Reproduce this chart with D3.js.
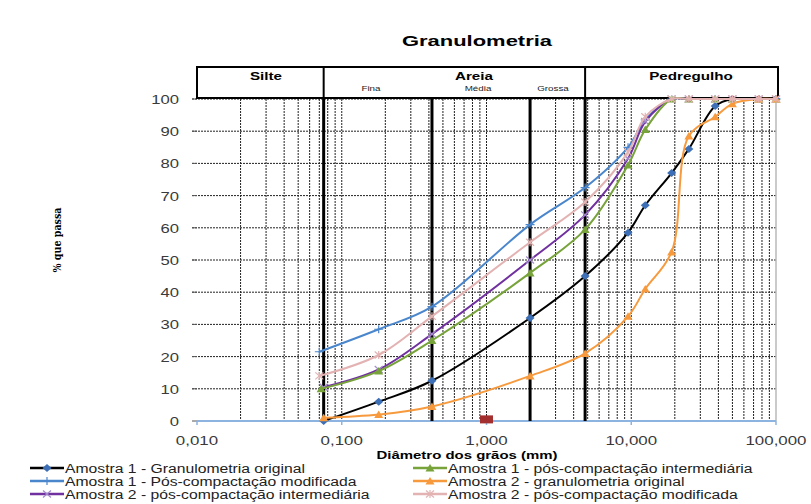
<!DOCTYPE html>
<html>
<head>
<meta charset="utf-8">
<script src="https://cdn.jsdelivr.net/npm/d3@7"></script>
<style>
  body { margin: 0; background: #fff; }
  text { font-family: "Liberation Sans", Arial, sans-serif; }
</style>
</head>
<body>
<svg id="chart" width="811" height="504"></svg>
<script>
// sieve openings (mm) and % passing
const diamA1Orig = [0.075, 0.18, 0.42, 2.0, 4.8, 9.5, 12.5, 19, 25, 38, 50, 76, 100];
const passA1Orig = [0, 6, 12.5, 32, 45, 58.5, 67, 77, 84.5, 97.8, 100, 100, 100];

const diamA1Mod = [0.07, 0.18, 0.42, 2.0, 4.8, 9.5, 12.5, 19, 25, 38, 50, 76, 100];
const passA1Mod = [21.5, 28.5, 35.5, 61, 72.5, 85, 93.5, 100, 100, 100, 100, 100, 100];

const diamA2Int = [0.075, 0.18, 0.42, 2.0, 4.8, 9.5, 12.5, 19, 25, 38, 50, 76, 100];
const passA2Int = [10.5, 16, 27, 50, 64, 81.5, 93, 100, 100, 100, 100, 100, 100];

const diamA1Int = [0.072, 0.18, 0.42, 2.0, 4.8, 9.5, 12.5, 19, 25, 38, 50, 76, 100];
const passA1Int = [10, 15.5, 25, 46, 59.5, 79.5, 90.5, 100, 100, 100, 100, 100, 100];

const diamA2Orig = [0.075, 0.18, 0.42, 2.0, 4.8, 9.5, 12.5, 19, 25, 38, 50, 76, 100];
const passA2Orig = [1, 2, 4.5, 14, 21, 32.5, 41, 52.5, 88.5, 94.5, 98.5, 100, 100];

const diamA2Mod = [0.07, 0.18, 0.42, 2.0, 4.8, 9.5, 12.5, 19, 25, 38, 50, 76, 100];
const passA2Mod = [14, 20.5, 32.5, 55.5, 68, 83.5, 94.5, 100, 100, 100, 100, 100, 100];

// stray point (square marker)
const diamExtra = [1.0];
const passExtra = [0.5];

const seriesNames = [
  "Amostra 1 - Granulometria original",
  "Amostra 1 - Pós-compactação modificada",
  "Amostra 2 - pós-compactação intermediária",
  "Amostra 1 - pós-compactação intermediária",
  "Amostra 2 - granulometria original",
  "Amostra 2 - pós-compactação modificada"
];

// soil class limits (mm)
const classLimits = [0.075, 0.42, 2.0, 4.8];
const classNames = ["Silte", "Areia", "Pedregulho"];
const subNames = ["Fina", "Média", "Grossa"];

const xTicks = [0.01, 0.1, 1, 10, 100];
const xTickLabels = ["0,010", "0,100", "1,000", "10,000", "100,000"];
const yTicks = [0, 10, 20, 30, 40, 50, 60, 70, 80, 90, 100];

const width = 811, height = 504;
const svg = d3.select("#chart");

const x = d3.scaleLog().domain([0.01, 100]).range([197, 776]);
const y = d3.scaleLinear().domain([0, 100]).range([421, 99]);

const zip = (a, b) => a.map((d, i) => [d, b[i]]);

const series = [
  { name: seriesNames[0], data: zip(diamA1Orig, passA1Orig), color: "#000000", mark: "diamond", mcolor: "#3d6fb6" },
  { name: seriesNames[1], data: zip(diamA1Mod, passA1Mod), color: "#4a86cc", mark: "plus", mcolor: "#4a86cc" },
  { name: seriesNames[2], data: zip(diamA2Int, passA2Int), color: "#7030a0", mark: "cross", mcolor: "#a48ccc" },
  { name: seriesNames[3], data: zip(diamA1Int, passA1Int), color: "#77a33a", mark: "triangle", mcolor: "#77a33a" },
  { name: seriesNames[4], data: zip(diamA2Orig, passA2Orig), color: "#f79a3e", mark: "triangle", mcolor: "#f79a3e" },
  { name: seriesNames[5], data: zip(diamA2Mod, passA2Mod), color: "#e3b3b3", mark: "star", mcolor: "#e3b3b3" }
];

// stretch text horizontally (picture is wider than its fonts)
function stretch(sel, k) {
  sel.each(function() {
    const len = this.getComputedTextLength();
    d3.select(this).attr("textLength", len * k).attr("lengthAdjust", "spacingAndGlyphs");
  });
}

// title
svg.append("text")
  .attr("x", 477).attr("y", 46)
  .attr("text-anchor", "middle")
  .style("font-size", "15px").style("font-weight", "bold")
  .text("Granulometria")
  .attr("textLength", 150).attr("lengthAdjust", "spacingAndGlyphs");

// vertical grid (minor log ticks)
const gridX = [];
for (let dec = 0.01; dec < 100; dec *= 10) {
  for (let k = 1; k < 10; k++) {
    const v = +(dec * k).toPrecision(3);
    if (v > 0.01) gridX.push(v);
  }
}

const grid = svg.append("g");
grid.selectAll("line.gx")
  .data(gridX)
  .join("line")
  .attr("x1", d => x(d)).attr("x2", d => x(d))
  .attr("y1", y(100)).attr("y2", y(0))
  .attr("stroke", "#222").attr("stroke-width", 1)
  .attr("stroke-dasharray", "2,1");

grid.selectAll("line.gy")
  .data(yTicks.filter(d => d > 0))
  .join("line")
  .attr("x1", 192).attr("x2", x(100))
  .attr("y1", d => y(d)).attr("y2", d => y(d))
  .attr("stroke", "#222").attr("stroke-width", 1)
  .attr("stroke-dasharray", "2,1");

// right border
svg.append("line")
  .attr("x1", x(100)).attr("x2", x(100))
  .attr("y1", y(100)).attr("y2", y(0))
  .attr("stroke", "#b8b8b8").attr("stroke-width", 1.5);

// y tick marks and labels
svg.append("g").selectAll("line")
  .data(yTicks)
  .join("line")
  .attr("x1", 192).attr("x2", 197)
  .attr("y1", d => y(d)).attr("y2", d => y(d))
  .attr("stroke", "#555");

const yLab = svg.append("g").selectAll("text")
  .data(yTicks)
  .join("text")
  .attr("x", 179).attr("y", d => y(d) + 5)
  .attr("text-anchor", "end")
  .attr("fill", "#3a3a3a")
  .style("font-size", "13px")
  .text(d => d);
stretch(yLab, 1.28);

// x axis line
svg.append("line")
  .attr("x1", x(0.01)).attr("x2", x(100))
  .attr("y1", y(0)).attr("y2", y(0))
  .attr("stroke", "#8db3e0").attr("stroke-width", 2);

svg.append("g").selectAll("line")
  .data(xTicks)
  .join("line")
  .attr("x1", d => x(d)).attr("x2", d => x(d))
  .attr("y1", y(0)).attr("y2", y(0) + 4)
  .attr("stroke", "#8db3e0").attr("stroke-width", 1.5);

const xLab = svg.append("g").selectAll("text")
  .data(xTicks)
  .join("text")
  .attr("x", d => x(d)).attr("y", 445)
  .attr("text-anchor", "middle")
  .attr("fill", "#3a3a3a")
  .style("font-size", "13px")
  .text((d, i) => xTickLabels[i]);
stretch(xLab, 1.3);

// axis titles
svg.append("text")
  .attr("x", 467).attr("y", 459)
  .attr("text-anchor", "middle")
  .style("font-size", "10px").style("font-weight", "bold")
  .text("Diâmetro dos grãos (mm)")
  .attr("textLength", 181).attr("lengthAdjust", "spacingAndGlyphs");

svg.append("text")
  .attr("transform", "translate(61,240) rotate(-90)")
  .attr("text-anchor", "middle")
  .style("font-size", "11px").style("font-weight", "bold")
  .style("font-family", "'DejaVu Serif Condensed', 'Liberation Serif', serif")
  .text("% que passa")
  .attr("textLength", 65).attr("lengthAdjust", "spacingAndGlyphs");

// thick class limit lines
svg.append("g").selectAll("line")
  .data(classLimits)
  .join("line")
  .attr("x1", d => x(d)).attr("x2", d => x(d))
  .attr("y1", 97).attr("y2", y(0))
  .attr("stroke", "#000").attr("stroke-width", 3);

// header boxes
const boxEdges = [0.01, classLimits[0], classLimits[3], 100];
svg.append("rect")
  .attr("x", x(0.01)).attr("y", 67)
  .attr("width", x(100) + 2 - x(0.01)).attr("height", 31)
  .attr("fill", "#fff").attr("stroke", "#000").attr("stroke-width", 2);
svg.append("g").selectAll("line")
  .data(boxEdges.slice(1, 3))
  .join("line")
  .attr("x1", d => x(d)).attr("x2", d => x(d))
  .attr("y1", 67).attr("y2", 98)
  .attr("stroke", "#000").attr("stroke-width", 2);

const classX = [266, 474, 691];
const cl = svg.append("g").selectAll("text")
  .data(classNames)
  .join("text")
  .attr("x", (d, i) => classX[i]).attr("y", 80)
  .attr("text-anchor", "middle")
  .style("font-size", "11px").style("font-weight", "bold")
  .text(d => d);
stretch(cl, 1.38);

const subX = [371, 478, 553];
const sl = svg.append("g").selectAll("text")
  .data(subNames)
  .join("text")
  .attr("x", (d, i) => subX[i]).attr("y", 91)
  .attr("text-anchor", "middle")
  .attr("fill", "#222")
  .style("font-size", "7px")
  .text(d => d);
stretch(sl, 1.4);

// marker drawing
function drawMarker(g, type, color, cx, cy) {
  if (type === "diamond") {
    g.append("path").attr("d", `M${cx},${cy - 4}L${cx + 4.5},${cy}L${cx},${cy + 4}L${cx - 4.5},${cy}Z`)
      .attr("fill", color);
  } else if (type === "triangle") {
    g.append("path").attr("d", `M${cx},${cy - 4}L${cx + 4.5},${cy + 3.5}L${cx - 4.5},${cy + 3.5}Z`)
      .attr("fill", color);
  } else if (type === "plus") {
    g.append("path").attr("d", `M${cx - 4.5},${cy}H${cx + 4.5}M${cx},${cy - 4}V${cy + 4}`)
      .attr("stroke", color).attr("stroke-width", 1.2);
  } else if (type === "cross") {
    g.append("path").attr("d", `M${cx - 4},${cy - 3.5}L${cx + 4},${cy + 3.5}M${cx - 4},${cy + 3.5}L${cx + 4},${cy - 3.5}`)
      .attr("stroke", color).attr("stroke-width", 1.2);
  } else if (type === "star") {
    g.append("path").attr("d", `M${cx - 4},${cy - 3.5}L${cx + 4},${cy + 3.5}M${cx - 4},${cy + 3.5}L${cx + 4},${cy - 3.5}M${cx},${cy - 4}V${cy + 4}`)
      .attr("stroke", color).attr("stroke-width", 1.2);
  }
}

// curves
const line = d3.line()
  .x(d => x(d[0]))
  .y(d => y(d[1]))
  .curve(d3.curveCatmullRom.alpha(0.5));

const plot = svg.append("g");
series.forEach(s => {
  plot.append("path")
    .attr("d", line(s.data))
    .attr("fill", "none")
    .attr("stroke", s.color)
    .attr("stroke-width", 2);
  const mg = plot.append("g");
  s.data.forEach(d => drawMarker(mg, s.mark, s.mcolor, x(d[0]), y(d[1])));
});

// stray square marker
plot.selectAll("rect.extra")
  .data(zip(diamExtra, passExtra))
  .join("rect")
  .attr("x", d => x(d[0]) - 6.5).attr("y", d => y(d[1]) - 4)
  .attr("width", 13).attr("height", 8)
  .attr("fill", "#a3302e");

// legend
const legX = [30, 413];
const legY = [468, 481, 494];
const legOrder = [0, 3, 1, 4, 2, 5]; // row-major over two columns
const leg = svg.append("g");
legOrder.forEach((si, j) => {
  const s = series[si];
  const col = j % 2, row = Math.floor(j / 2);
  const lx = legX[col], ly = legY[row];
  leg.append("line")
    .attr("x1", lx).attr("x2", lx + 34)
    .attr("y1", ly).attr("y2", ly)
    .attr("stroke", s.color).attr("stroke-width", 2.5);
  drawMarker(leg, s.mark, s.mcolor, lx + 17, ly);
  leg.append("text")
    .attr("class", "legtext")
    .attr("x", lx + 35).attr("y", ly + 4.5)
    .attr("fill", "#222")
    .style("font-size", "12px")
    .text(s.name);
});
const legTexts = leg.selectAll("text.legtext");
const base = legTexts.nodes()[0].getComputedTextLength();
stretch(legTexts, 240 / base);
</script>
</body>
</html>
